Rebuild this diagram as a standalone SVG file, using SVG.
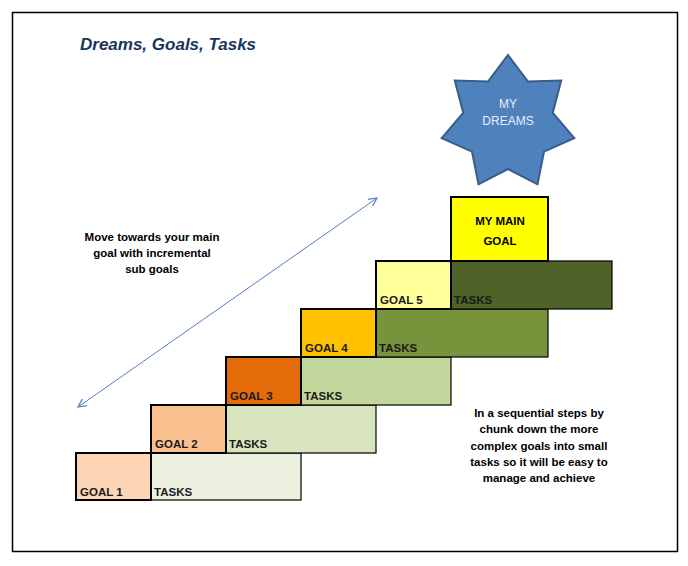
<svg xmlns="http://www.w3.org/2000/svg" width="688" height="566" viewBox="0 0 688 566">
<defs>
<style>
.g{stroke:#000;stroke-width:2}
.t{stroke:#000;stroke-width:1.2}
.l{font-family:"Liberation Sans",Arial,sans-serif;font-weight:bold;font-size:11.5px;fill:#1a1a1a}
.n{font-family:"Liberation Sans",Arial,sans-serif;font-weight:bold;font-size:11.5px;fill:#000;text-anchor:middle}
</style>
<marker id="ah" viewBox="0 0 10 10" refX="9" refY="5" markerWidth="10" markerHeight="10" orient="auto-start-reverse" markerUnits="userSpaceOnUse"><path d="M1,1 L9,5 L1,9" fill="none" stroke="#4f81bd" stroke-width="1.2"/></marker>
</defs>
<rect width="688" height="566" fill="#fff"/>
<rect x="12.5" y="12.5" width="665" height="539" fill="none" stroke="#000" stroke-width="1.5"/>
<text x="80" y="50" font-family="'Liberation Sans',Arial,sans-serif" font-size="17" font-weight="bold" font-style="italic" fill="#17365d">Dreams, Goals, Tasks</text>
<g id="connectors"><line x1="78" y1="407" x2="377" y2="198" stroke="#4f81bd" stroke-width="1" marker-start="url(#ah)" marker-end="url(#ah)"/></g>
<g id="dreams"><polygon points="508,55 528,81.6 561.2,80.6 552.8,112.8 574.3,138.1 544,151.7 537.5,184.3 508,169 478.5,184.3 472,151.7 441.7,138.1 463.2,112.8 454.8,80.6 488,81.6" fill="#4f81bd" stroke="#385d8a" stroke-width="2"/>
<text x="508" y="108" text-anchor="middle" font-family="'Liberation Sans',Arial,sans-serif" font-size="12" fill="#e8eef8">MY</text>
<text x="508" y="125" text-anchor="middle" font-family="'Liberation Sans',Arial,sans-serif" font-size="12" fill="#e8eef8">DREAMS</text></g>
<g id="tasks1"><rect class="t" x="151" y="453" width="150" height="47" fill="#ebf1de"/><text class="l" x="154" y="496">TASKS</text></g>
<g id="goal1"><rect class="g" x="76" y="453" width="75" height="47" fill="#fcd5b5"/><text class="l" x="80" y="496">GOAL 1</text></g>
<g id="tasks2"><rect class="t" x="226" y="405" width="150" height="48" fill="#d7e4bd"/><text class="l" x="229" y="448">TASKS</text></g>
<g id="goal2"><rect class="g" x="151" y="405" width="75" height="48" fill="#fac090"/><text class="l" x="155" y="448">GOAL 2</text></g>
<g id="tasks3"><rect class="t" x="301" y="357" width="150" height="48" fill="#c3d69b"/><text class="l" x="304" y="400">TASKS</text></g>
<g id="goal3"><rect class="g" x="226" y="357" width="75" height="48" fill="#e36c09"/><text class="l" x="230" y="400">GOAL 3</text></g>
<g id="tasks4"><rect class="t" x="376" y="309" width="172" height="48" fill="#77933c"/><text class="l" x="379" y="352">TASKS</text></g>
<g id="goal4"><rect class="g" x="301" y="309" width="75" height="48" fill="#ffc000"/><text class="l" x="305" y="352">GOAL 4</text></g>
<g id="tasks5"><rect class="t" x="451" y="261" width="161" height="48" fill="#4f6228"/><text class="l" x="454" y="304">TASKS</text></g>
<g id="goal5"><rect class="g" x="376" y="261" width="75" height="48" fill="#ffff99"/><text class="l" x="380" y="304">GOAL 5</text></g>
<g id="maingoal"><rect class="g" x="451" y="197" width="97" height="64" fill="#ffff00"/><text class="n" x="500" y="225">MY MAIN</text><text class="n" x="500" y="245">GOAL</text></g>
<g id="note1"><text class="n" x="152" y="241">Move towards your main</text><text class="n" x="152" y="257">goal with incremental</text><text class="n" x="152" y="273">sub goals</text></g>
<g id="note2"><text class="n" x="539" y="417">In a sequential steps by</text><text class="n" x="539" y="433">chunk down the more</text><text class="n" x="539" y="450">complex goals into small</text><text class="n" x="539" y="466">tasks so it will be easy to</text><text class="n" x="539" y="482">manage and achieve</text></g>
</svg>
